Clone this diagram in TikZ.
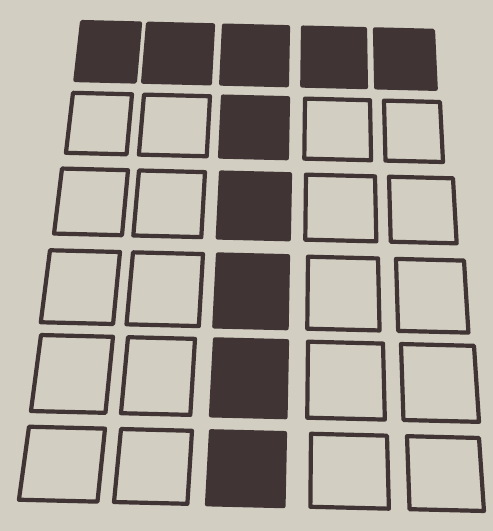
\documentclass[tikz,border=0pt]{standalone}
\usepackage{xcolor}

\definecolor{paper}{RGB}{210,206,193}
\definecolor{ink}{RGB}{64,52,52}

% one square of the grid: left x, right x, row base y, height, fill
\newcommand{\gridcell}[5]{%
  \pgfmathsetmacro{\yA}{#3+0.025*#1}%
  \pgfmathsetmacro{\yB}{#3+0.025*#2}%
  \pgfmathsetmacro{\xC}{#2+(#2-330)*0.000455*#4}%
  \pgfmathsetmacro{\xD}{#1+(#1-330)*0.000455*#4}%
  \draw[cell=#5] (#1,\yA) -- (#2,\yB) -- (\xC,\yB+#4) -- (\xD,\yA+#4) -- cycle;
}

% one row of squares: base y, height, all filled (1) or not (0), x pairs
\newcommand{\gridrow}[4]{%
  \foreach \xa/\xb [count=\c] in {#4} {
    \ifnum#3=1 \def\cellfill{ink}\else
      \ifnum\c=3 \def\cellfill{ink}\else \def\cellfill{paper}\fi
    \fi
    \gridcell{\xa}{\xb}{#1}{#2}{\cellfill}
  }%
}

\begin{document}
\begin{tikzpicture}[
    x=1pt, y=-1pt,
    cell/.style={
        draw=ink,
        line width=4.2pt,
        line join=round,
        fill=#1
    }
]

% =========================================================
% Paper background
% =========================================================
\useasboundingbox (0,0) rectangle (493,531);
\fill[paper] (0,0) rectangle (493,531);

% =========================================================
% Grid of squares, row by row
% =========================================================
\gridrow{20}{58}{1}{82/140,148/213,224/288,303/365,375/433}
\gridrow{91}{60}{0}{73/132,144/210,223/288,305/370,384/440}
\gridrow{167}{65}{0}{62/128,139/205,221/290,306/375,389/453}
\gridrow{249}{72}{0}{50/120,133/203,218/288,308/378,396/464}
\gridrow{334}{76}{0}{41/113,128/195,215/287,308/383,401/474}
\gridrow{426}{73}{0}{29/105,121/192,211/285,311/387,407/479}

\end{tikzpicture}
\end{document}
